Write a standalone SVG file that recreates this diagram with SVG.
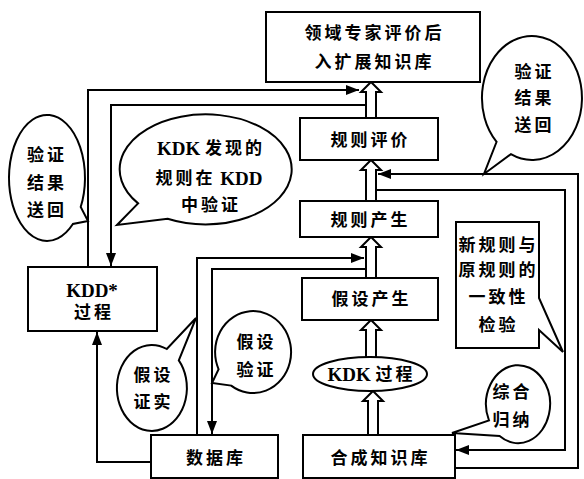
<svg xmlns="http://www.w3.org/2000/svg" width="584" height="479" viewBox="0 0 584 479">
<defs>
<style>
.box{fill:#fff;stroke:#000;stroke-width:2}
.bub{fill:#fff;stroke:#000;stroke-width:2;stroke-linejoin:miter}
.hol{fill:#fff;stroke:#000;stroke-width:2;stroke-linejoin:miter}
.ln{fill:none;stroke:#000;stroke-width:2}
.t{font-family:"Liberation Serif","Noto Sans CJK SC",serif;font-size:17px;font-weight:bold;letter-spacing:3px;text-anchor:middle;dominant-baseline:central;fill:#000}
.lat{font-size:19px;letter-spacing:0}
</style>
<marker id="ah" markerUnits="userSpaceOnUse" markerWidth="14" markerHeight="10" refX="13" refY="5" orient="auto">
<path d="M0,0 L13,5 L0,10 Z" fill="#000"/>
</marker>
</defs>
<rect width="584" height="479" fill="#fff"/>

<g id="connectors">
<polyline class="ln" points="88,267 88,90 359,90" marker-end="url(#ah)"/>
<polyline class="ln" points="365,105 111,105 111,266" marker-end="url(#ah)"/>
<polyline class="ln" points="197,435 197,258 364,258" marker-end="url(#ah)"/>
<polyline class="ln" points="366,269 212,269 212,434" marker-end="url(#ah)"/>
<polyline class="ln" points="151,462 97,462 97,332" marker-end="url(#ah)"/>
<polyline class="ln" points="377,190 565,190 565,450 456,450" marker-end="url(#ah)"/>
<polyline class="ln" points="455,468 578,468 578,174 378,174" marker-end="url(#ah)"/>
<path class="hol" d="M366,118 V92 H361 L371,82 L381,92 H376 V118"/>
<path class="hol" d="M366,201 V170 H361 L371,160 L381,170 H376 V201"/>
<path class="hol" d="M366,278 V247 H361 L371,237 L381,247 H376 V278"/>
<path class="hol" d="M366,357 V330 H361 L371,320 L381,330 H376 V357"/>
<path class="hol" d="M368,435 V401 H363 L373,391 L383,401 H378 V435"/>
</g>

<g id="n-top">
<rect class="box" x="266" y="12" width="214" height="70"/>
<text class="t" x="374.5" y="33">领域专家评价后</text>
<text class="t" x="374.5" y="62">入扩展知识库</text>
</g>
<g id="n-rule-eval">
<rect class="box" x="300" y="118" width="138" height="42"/>
<text class="t" x="370.5" y="140">规则评价</text>
</g>
<g id="n-rule-gen">
<rect class="box" x="300" y="201" width="138" height="36"/>
<text class="t" x="370.5" y="220">规则产生</text>
</g>
<g id="n-hyp-gen">
<rect class="box" x="302" y="278" width="136" height="42"/>
<text class="t" x="371.5" y="299">假设产生</text>
</g>
<g id="n-kdk">
<ellipse class="box" cx="370" cy="374" rx="57" ry="17"/>
<text class="t" x="371.5" y="374"><tspan class="lat">KDK </tspan>过程</text>
</g>
<g id="n-synth">
<rect class="box" x="303" y="435" width="152" height="43"/>
<text class="t" x="380.5" y="458">合成知识库</text>
</g>
<g id="n-db">
<rect class="box" x="151" y="435" width="127" height="43"/>
<text class="t" x="216" y="458">数据库</text>
</g>
<g id="n-kdd">
<rect class="box" x="28" y="267" width="129" height="64"/>
<text class="t" x="92" y="290"><tspan class="lat">KDD*</tspan></text>
<text class="t" x="94" y="312">过程</text>
</g>

<g id="b-left-verify">
<path class="bub" d="M80.7,207 A38 63 0 1 0 72.9,224 L88,221 Z"/>
<text class="t" x="47" y="155">验证</text>
<text class="t" x="47" y="183">结果</text>
<text class="t" x="47" y="210">送回</text>
</g>
<g id="b-kdk-rule">
<path class="bub" d="M167.6,218.7 A86 55 0 1 0 138.1,203.4 L117,225 Z"/>
<text class="t" x="211" y="148"><tspan class="lat">KDK </tspan>发现的</text>
<text class="t" x="209" y="178">规则在<tspan class="lat"> KDD</tspan></text>
<text class="t" x="211" y="205">中验证</text>
</g>
<g id="b-hyp-confirm">
<path class="bub" d="M166.8,349 A35 43 0 1 0 178.8,360.4 L196,318 Z"/>
<text class="t" x="153.5" y="375">假设</text>
<text class="t" x="153.5" y="402">证实</text>
</g>
<g id="b-hyp-verify">
<path class="bub" d="M231.2,385.6 A38 41 0 1 0 218.6,369.3 L212,383 Z"/>
<text class="t" x="256.5" y="342">假设</text>
<text class="t" x="256.5" y="370">验证</text>
</g>
<g id="b-right-verify">
<path class="bub" d="M510.9,154.2 A50 62 0 1 0 496.6,141.8 L484,174 Z"/>
<text class="t" x="534.5" y="72">验证</text>
<text class="t" x="534.5" y="98">结果</text>
<text class="t" x="534.5" y="125">送回</text>
</g>
<g id="b-consistency">
<path class="bub" d="M456,222 H539 V298 L563,352 L539,330 V348 H456 Z"/>
<text class="t" x="498.5" y="245">新规则与</text>
<text class="t" x="498.5" y="270">原规则的</text>
<text class="t" x="498.5" y="297">一致性</text>
<text class="t" x="498.5" y="325">检验</text>
</g>
<g id="b-induction">
<path class="bub" d="M499.6,436 A32 39 0 1 0 489,420.5 L452,433 Z"/>
<text class="t" x="512.5" y="392">综合</text>
<text class="t" x="512.5" y="420">归纳</text>
</g>
</svg>
